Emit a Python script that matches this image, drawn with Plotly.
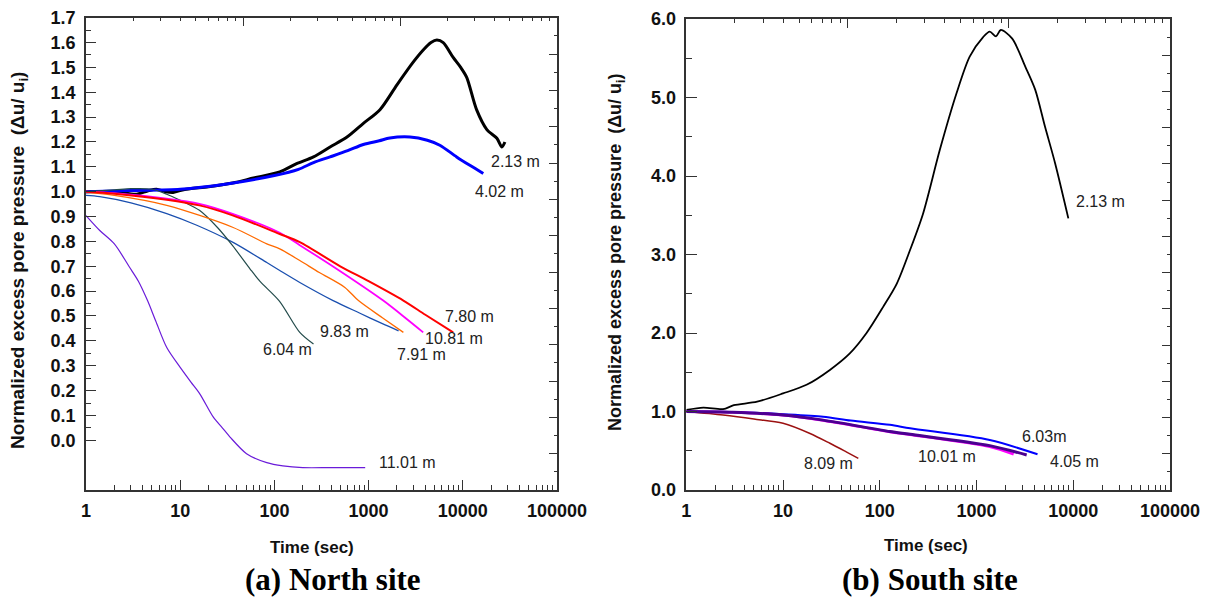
import plotly.graph_objects as go

# ---------------- data: North site ----------------
t_n213 = [1, 2, 3.45, 4.5, 5.6, 7, 8.4, 10, 12.7, 20, 36, 60, 114, 172, 260, 390, 590, 880,
          1320, 2000, 2960, 3800, 4600, 5300, 6200, 7900, 9500, 11000, 14000, 18000, 23000, 26000, 28000]
u_n213 = [1.0, 1.0, 0.99, 1.003, 1.01, 1.0, 0.997, 1.005, 1.012, 1.02, 1.035, 1.055, 1.08, 1.113, 1.14,
          1.18, 1.22, 1.275, 1.33, 1.43, 1.52, 1.57, 1.60, 1.61, 1.60, 1.54, 1.50, 1.46, 1.33, 1.25, 1.215, 1.18, 1.20]
t_n402 = [1, 3, 10, 30, 100, 180, 260, 390, 600, 880, 1300, 1680, 2750, 4200, 5700, 8600, 12000, 16500]
u_n402 = [1.0, 1.005, 1.01, 1.03, 1.065, 1.09, 1.117, 1.14, 1.165, 1.19, 1.205, 1.216, 1.22, 1.207, 1.187,
          1.14, 1.105, 1.073]
t_n780 = [1, 2, 7.2, 16, 36, 114, 186, 500, 1000, 2340, 4000, 7900]
u_n780 = [1.0, 0.992, 0.968, 0.945, 0.905, 0.83, 0.797, 0.70, 0.64, 0.562, 0.505, 0.434]
t_n1081 = [1, 2, 7.2, 16, 36, 114, 186, 500, 1430, 2500, 3800]
u_n1081 = [1.0, 0.994, 0.972, 0.951, 0.911, 0.835, 0.785, 0.68, 0.562, 0.49, 0.434]
t_n791 = [1, 2, 7.2, 36, 83, 114, 186, 300, 560, 780, 1400, 2340]
u_n791 = [0.997, 0.985, 0.945, 0.857, 0.79, 0.77, 0.723, 0.675, 0.615, 0.562, 0.493, 0.434]
t_n983 = [1, 1.4, 3, 7.2, 15, 36, 83, 114, 186, 420, 800, 1400, 2080]
u_n983 = [0.985, 0.98, 0.955, 0.912, 0.865, 0.797, 0.715, 0.683, 0.635, 0.562, 0.512, 0.469, 0.44]
t_n604 = [1, 2, 3, 5, 7.2, 10, 16, 25, 36, 55, 70, 113, 186, 260]
u_n604 = [1.0, 1.007, 1.012, 1.01, 0.99, 0.965, 0.925, 0.855, 0.783, 0.69, 0.64, 0.56, 0.434, 0.387]
t_n1101 = [1, 1.4, 2, 2.9, 3.6, 4.5, 5.5, 7.2, 10, 13, 16.2, 22.4, 28, 33.8, 50.6, 83, 123, 200, 400, 920]
u_n1101 = [0.904, 0.844, 0.79, 0.696, 0.64, 0.562, 0.48, 0.373, 0.293, 0.234, 0.186, 0.094, 0.05, 0.013,
           -0.054, -0.09, -0.103, -0.11, -0.11, -0.11]

# ---------------- data: South site ----------------
t_s213 = [1, 1.5, 2.4, 3.1, 5.4, 10, 17.5, 30.5, 49, 73, 108, 150, 206, 280, 417, 620, 850, 1170, 1370,
          1590, 1780, 2340, 3200, 4040, 5100, 6500, 8900]
u_s213 = [1.02, 1.05, 1.03, 1.08, 1.125, 1.23, 1.34, 1.53, 1.74, 2.0, 2.33, 2.63, 3.06, 3.52, 4.33, 5.05,
          5.52, 5.77, 5.84, 5.78, 5.86, 5.75, 5.39, 5.10, 4.63, 4.16, 3.46]
t_s603 = [1, 3, 10, 26, 50, 127, 206, 1370, 4270]
u_s603 = [1.0, 0.995, 0.966, 0.934, 0.885, 0.83, 0.786, 0.637, 0.455]
t_s405 = [1, 3, 10, 26, 127, 206, 1370, 3300]
u_s405 = [1.0, 0.99, 0.955, 0.89, 0.745, 0.71, 0.565, 0.446]
t_s1001 = [1, 3, 10, 26, 127, 206, 1370, 2420]
u_s1001 = [1.0, 0.99, 0.953, 0.887, 0.74, 0.705, 0.552, 0.455]
t_s809 = [1, 2.4, 5, 10, 19, 30.5, 45, 60]
u_s809 = [1.0, 0.955, 0.905, 0.85, 0.72, 0.595, 0.486, 0.404]

# ---------------- tick labels ----------------
x_ticks = [1, 10, 100, 1000, 10000, 100000]
x_ticktext = ["1", "10", "100", "1000", "10000", "100000"]
yN_ticks = [round(0.1 * i, 1) for i in range(18)]
yN_ticktext = ["%.1f" % v for v in yN_ticks]
yS_ticks = [0, 1, 2, 3, 4, 5, 6]
yS_ticktext = ["%.1f" % v for v in yS_ticks]

north = [
    ("2.13 m", t_n213, u_n213, "#000000", 3.0),
    ("4.02 m", t_n402, u_n402, "#0000FF", 3.0),
    ("9.83 m", t_n983, u_n983, "#1A4FAF", 1.3),
    ("6.04 m", t_n604, u_n604, "#234B4B", 1.2),
    ("7.91 m", t_n791, u_n791, "#FF6A00", 1.3),
    ("10.81 m", t_n1081, u_n1081, "#FF00FF", 1.8),
    ("7.80 m", t_n780, u_n780, "#FF0000", 2.0),
    ("11.01 m", t_n1101, u_n1101, "#6A1BD9", 1.2),
]
south = [
    ("2.13 m", t_s213, u_s213, "#000000", 1.8),
    ("8.09 m", t_s809, u_s809, "#9B1010", 1.5),
    ("6.03m", t_s603, u_s603, "#0000FF", 2.0),
    ("10.01 m", t_s1001, u_s1001, "#FF00FF", 2.6),
    ("4.05 m", t_s405, u_s405, "#4B0090", 3.0),
]

fig = go.Figure()
for name, t, u, c, w in north:
    fig.add_trace(go.Scatter(x=t, y=u, mode="lines", name=name,
                             line=dict(color=c, width=w, shape="spline", smoothing=0.8),
                             xaxis="x", yaxis="y", showlegend=False))
for name, t, u, c, w in south:
    fig.add_trace(go.Scatter(x=t, y=u, mode="lines", name=name,
                             line=dict(color=c, width=w, shape="spline", smoothing=0.8),
                             xaxis="x2", yaxis="y2", showlegend=False))
# empty traces that activate the mirror (top / right) frame axes
for xa, ya in (("x3", "y3"), ("x4", "y4")):
    fig.add_trace(go.Scatter(x=[], y=[], xaxis=xa, yaxis=ya, showlegend=False, hoverinfo="skip"))

W, H = 1205, 598
dxN = [86 / W, 557 / W]
dxS = [686.3 / W, 1170 / W]
dyN = [1 - 490 / H, 1 - 17.7 / H]
dyS = [1 - 490 / H, 1 - 19 / H]

FR = "#333333"
sans = "Liberation Sans, Arial, sans-serif"
tickfont = dict(family=sans, size=18, color="#111111", weight=700)


def bold(lst):
    return ["<b>%s</b>" % s for s in lst]


def minor_log(decades):
    return [m * 10 ** d for d in range(decades) for m in range(2, 10)]


def bottom_axis(domain, anchor):
    return dict(type="log", domain=domain, anchor=anchor, range=[0, 5], tickmode="array",
                tickvals=x_ticks, ticktext=bold(x_ticktext), ticks="inside", ticklen=10, tickwidth=1,
                tickcolor=FR, showline=True, linecolor=FR, linewidth=1.5, showgrid=False,
                zeroline=False, tickfont=tickfont, ticklabelstandoff=4, automargin=False,
                minor=dict(tickmode="array", tickvals=minor_log(5), ticks="inside", ticklen=5,
                           tickwidth=1, tickcolor=FR, showgrid=False))


def top_axis(domain, over, anchor):
    return dict(type="log", domain=domain, overlaying=over, anchor=anchor, side="top", range=[0, 3],
                tickmode="array", tickvals=[1, 10, 100, 1000], ticks="inside", ticklen=9, tickwidth=1,
                tickcolor=FR, showline=True, linecolor=FR, linewidth=1.5, showgrid=False,
                zeroline=False, showticklabels=False, automargin=False,
                minor=dict(tickmode="array", tickvals=minor_log(3), ticks="inside", ticklen=4,
                           tickwidth=1, tickcolor=FR, showgrid=False))


def right_axis(domain, over, anchor):
    return dict(domain=domain, overlaying=over, anchor=anchor, side="right", range=[0, 13],
                tickmode="array", tickvals=list(range(14)), ticks="inside", ticklen=8.7, tickwidth=1,
                tickcolor=FR, showline=True, linecolor=FR, linewidth=1.5, showgrid=False,
                zeroline=False, showticklabels=False, automargin=False,
                minor=dict(tickmode="array", tickvals=[i + 0.5 for i in range(13)], ticks="inside",
                           ticklen=3.7, tickwidth=1, tickcolor=FR, showgrid=False))


fig.update_layout(
    width=W, height=H, margin=dict(l=0, r=0, t=0, b=0, autoexpand=False),
    paper_bgcolor="white", plot_bgcolor="white",
    xaxis=bottom_axis(dxN, "y"),
    xaxis2=bottom_axis(dxS, "y2"),
    xaxis3=top_axis(dxN, "x", "y3"),
    xaxis4=top_axis(dxS, "x2", "y4"),
    yaxis=dict(domain=dyN, anchor="x", range=[-0.2, 1.7], tickmode="array", tickvals=yN_ticks,
               ticktext=bold(yN_ticktext), ticks="inside", ticklen=10.5, tickwidth=1, tickcolor=FR,
               showline=True, linecolor=FR, linewidth=1.5, showgrid=False, zeroline=False,
               tickfont=tickfont, ticklabelstandoff=5, automargin=False,
               minor=dict(tickmode="array", tickvals=[0.05 + 0.1 * i for i in range(17)],
                          ticks="inside", ticklen=5.5, tickwidth=1, tickcolor=FR, showgrid=False)),
    yaxis2=dict(domain=dyS, anchor="x2", range=[0, 6], tickmode="array", tickvals=yS_ticks,
                ticktext=bold(yS_ticktext), ticks="inside", ticklen=10.5, tickwidth=1, tickcolor=FR,
                showline=True, linecolor=FR, linewidth=1.5, showgrid=False, zeroline=False,
                tickfont=tickfont, ticklabelstandoff=5, automargin=False,
                minor=dict(tickmode="array", tickvals=[0.5 + i for i in range(6)],
                           ticks="inside", ticklen=5.5, tickwidth=1, tickcolor=FR, showgrid=False)),
    yaxis3=right_axis(dyN, "y", "x3"),
    yaxis4=right_axis(dyS, "y2", "x4"),
)

lab_font = dict(family=sans, size=16, color="#222222")
labelsN = [("2.13 m", 4.281, 1.122), ("4.02 m", 4.111, 1.002), ("7.80 m", 3.793, 0.497),
           ("10.81 m", 3.581, 0.410), ("7.91 m", 3.280, 0.347), ("9.83 m", 2.460, 0.438),
           ("6.04 m", 1.858, 0.364), ("11.01 m", 3.092, -0.088)]
labelsS = [("2.13 m", 4.008, 3.673), ("6.03m", 3.447, 0.679), ("4.05 m", 3.740, 0.369),
           ("10.01 m", 2.373, 0.424), ("8.09 m", 1.192, 0.340)]
for txt, x, y in labelsN:
    fig.add_annotation(text=txt, x=x, y=y, xref="x", yref="y", showarrow=False, xanchor="left",
                       yanchor="middle", font=lab_font)
for txt, x, y in labelsS:
    fig.add_annotation(text=txt, x=x, y=y, xref="x2", yref="y2", showarrow=False, xanchor="left",
                       yanchor="middle", font=lab_font)

ytitle = "<b>Normalized excess pore pressure  (\u0394u/ u<sub>i</sub>)</b>"
fig.add_annotation(text=ytitle, x=19 / W, y=1 - 261 / H, xref="paper", yref="paper", textangle=-90,
                   showarrow=False, xanchor="center", yanchor="middle",
                   font=dict(family=sans, size=19, color="#111111"))
fig.add_annotation(text=ytitle, x=617 / W, y=1 - 252 / H, xref="paper", yref="paper", textangle=-90,
                   showarrow=False, xanchor="center", yanchor="middle",
                   font=dict(family=sans, size=18, color="#111111"))
xt_font = dict(family=sans, size=17, color="#111111")
fig.add_annotation(text="<b>Time (sec)</b>", x=312 / W, y=1 - 547 / H, xref="paper", yref="paper",
                   showarrow=False, xanchor="center", yanchor="middle", font=xt_font)
fig.add_annotation(text="<b>Time (sec)</b>", x=925.5 / W, y=1 - 545 / H, xref="paper", yref="paper",
                   showarrow=False, xanchor="center", yanchor="middle", font=xt_font)
title_font = dict(family="Liberation Serif, Times New Roman, serif", size=31, color="#000000")
fig.add_annotation(text="<b>(a) North site</b>", x=333.3 / W, y=1 - 579 / H, xref="paper", yref="paper",
                   showarrow=False, xanchor="center", yanchor="middle", font=title_font)
fig.add_annotation(text="<b>(b) South site</b>", x=930 / W, y=1 - 579 / H, xref="paper", yref="paper",
                   showarrow=False, xanchor="center", yanchor="middle", font=title_font)

fig.write_html("out.html", config={"displayModeBar": False},
               post_script="document.body.style.margin='0px';")
